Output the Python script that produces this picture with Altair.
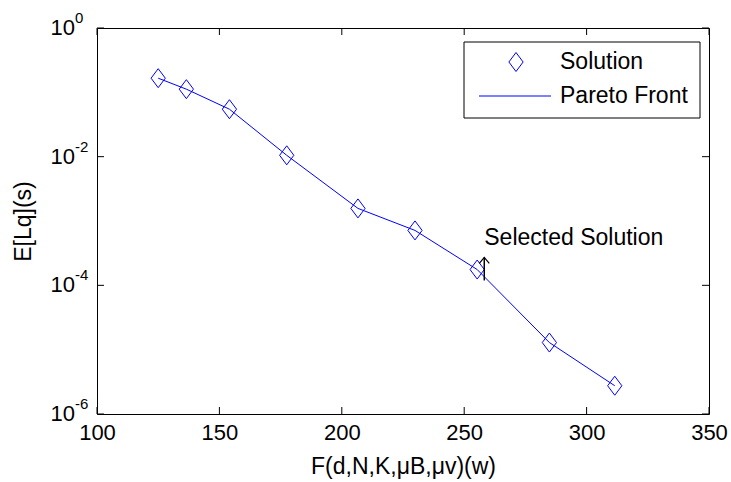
import altair as alt
import pandas as pd

# ---- data ----
x_vals = [125.0, 136.5, 154.1, 177.5, 206.6, 229.9, 255.3, 284.8, 311.5]
y_vals = [0.166, 0.112, 0.0547, 0.0105, 1.57e-3, 7.14e-4, 1.76e-4, 1.29e-5, 2.75e-6]
x_ticks = [100, 150, 200, 250, 300, 350]
y_ticks = [1.0, 1e-2, 1e-4, 1e-6]
y_tick_exps = ["0", "-2", "-4", "-6"]
annot_x = [258.2]
annot_text_y = [5.4e-4]
arrow_top_y = [2.71e-4]
arrow_bottom_y = [1.19e-4]
annot_label = ["Selected Solution"]
legend_labels = ["Solution", "Pareto Front"]

W, H = 612, 386
FONT = "Liberation Sans"
BLUE = "#0000ff"
DIAMOND = "M0,-1L0.75,0L0,1L-0.75,0Z"
CHEVRON = "M-1,1.2L0,0L1,1.2"

xs = alt.Scale(domain=[100, 350], nice=False, zero=False)
ys = alt.Scale(type="log", domain=[1e-6, 1], nice=False)

X_AXIS = alt.Axis(
    values=x_ticks, ticks=False, domain=False, grid=False,
    labelFont=FONT, labelFontSize=22, labelColor="black", labelPadding=8,
    labelFlush=False, labelOverlap=False, format="d",
    title="F(d,N,K,μB,μv)(w)", titleFont=FONT, titleFontSize=23,
    titleFontWeight="normal", titleColor="black", titleY=52,
    titleBaseline="middle")
Y_AXIS = alt.Axis(
    labels=False, ticks=False, domain=False, grid=False,
    title="E[Lq](s)", titleFont=FONT, titleFontSize=23,
    titleFontWeight="normal", titleColor="black", titleX=-74, titleY=H / 2,
    titleAngle=270, titleAlign="center", titleBaseline="middle")
X_TITLE = "F(d,N,K,μB,μv)(w)"
Y_TITLE = "E[Lq](s)"


def X(field):
    return alt.X(field, scale=xs, axis=X_AXIS, title=X_TITLE)


def Y(field):
    return alt.Y(field, scale=ys, axis=Y_AXIS, title=Y_TITLE)


df = pd.DataFrame({"x": x_vals, "y": y_vals})
xt_df = pd.DataFrame({"t": x_ticks})
yt_df = pd.DataFrame({"t": y_ticks, "e": y_tick_exps})
an_df = pd.DataFrame({"x": annot_x, "ty": annot_text_y, "at": arrow_top_y,
                      "ab": arrow_bottom_y, "lab": annot_label})
one = pd.DataFrame({"a": [0]})

line = alt.Chart(df).mark_line(color=BLUE, strokeWidth=1).encode(x=X("x:Q"), y=Y("y:Q"))

points = alt.Chart(df).mark_point(
    shape=DIAMOND, size=361, filled=False, color=BLUE, strokeWidth=1, opacity=1
).encode(x=X("x:Q"), y=Y("y:Q"))

tick_style = dict(color="black", strokeWidth=1)
xb = alt.Chart(xt_df).mark_rule(**tick_style).encode(
    x=X("t:Q"), y=alt.value(H), y2=alt.value(H - 7))
xtp = alt.Chart(xt_df).mark_rule(**tick_style).encode(
    x=X("t:Q"), y=alt.value(0), y2=alt.value(7))
yl = alt.Chart(yt_df).mark_rule(**tick_style).encode(
    y=Y("t:Q"), x=alt.value(0), x2=alt.value(7))
yr = alt.Chart(yt_df).mark_rule(**tick_style).encode(
    y=Y("t:Q"), x=alt.value(W), x2=alt.value(W - 7))

ylab = alt.Chart(yt_df).mark_text(
    font=FONT, fontSize=22, color="black", align="right", baseline="middle"
).encode(y=Y("t:Q"), x=alt.value(-22), text=alt.value("10"))
yexp = alt.Chart(yt_df).mark_text(
    font=FONT, fontSize=15, color="black", align="left", baseline="middle", dy=-10
).encode(y=Y("t:Q"), x=alt.value(-22), text="e:N")

ann_text = alt.Chart(an_df).mark_text(
    font=FONT, fontSize=23, color="black", align="left", baseline="middle"
).encode(x=X("x:Q"), y=Y("ty:Q"), text="lab:N")
ann_stem = alt.Chart(an_df).mark_rule(color="black", strokeWidth=1.5).encode(
    x=X("x:Q"), y=Y("at:Q"), y2="ab:Q")
ann_head = alt.Chart(an_df).mark_point(
    shape=CHEVRON, size=100, filled=False, color="black", strokeWidth=1.2, opacity=1
).encode(x=X("x:Q"), y=Y("at:Q"))

leg_box = alt.Chart(one).mark_rect(fill="white", stroke="black", strokeWidth=1).encode(
    x=alt.value(367), x2=alt.value(603), y=alt.value(14), y2=alt.value(90))
leg_pt = alt.Chart(one).mark_point(
    shape=DIAMOND, size=361, filled=False, color=BLUE, strokeWidth=1, opacity=1
).encode(x=alt.value(419), y=alt.value(34))
leg_line = alt.Chart(one).mark_rule(color=BLUE, strokeWidth=1).encode(
    x=alt.value(382), x2=alt.value(454), y=alt.value(68))
leg_t1 = alt.Chart(one).mark_text(
    font=FONT, fontSize=23, color="black", align="left", baseline="middle"
).encode(x=alt.value(463), y=alt.value(34), text=alt.value(legend_labels[0]))
leg_t2 = alt.Chart(one).mark_text(
    font=FONT, fontSize=23, color="black", align="left", baseline="middle"
).encode(x=alt.value(463), y=alt.value(68), text=alt.value(legend_labels[1]))

chart = alt.layer(
    line, points, xb, xtp, yl, yr, ylab, yexp, ann_text, ann_stem, ann_head,
    leg_box, leg_pt, leg_line, leg_t1, leg_t2
).properties(
    width=W, height=H,
    autosize=alt.AutoSizeParams(type="none"),
    padding={"left": 97, "top": 28, "right": 22, "bottom": 68},
    background="white",
).configure_view(stroke="black", strokeWidth=1)

chart.save("out.html", embed_options={"renderer": "svg", "actions": False})
